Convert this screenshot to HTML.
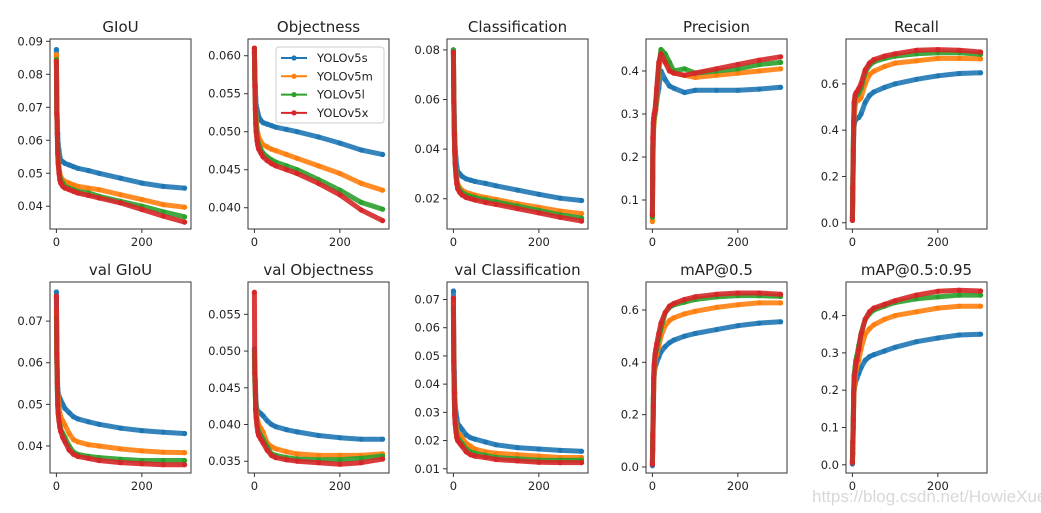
<!DOCTYPE html>
<html><head><meta charset="utf-8"><style>
html,body{margin:0;padding:0;background:#fff;}
svg{display:block;font-family:"DejaVu Sans","Liberation Sans",sans-serif;}
</style></head><body>
<svg id="fig" width="1041" height="513" viewBox="0 0 1041 513">
<text x="812" y="502" font-size="17" fill="#d8d8d8" font-family="Liberation Sans, sans-serif">https://blog.csdn.net/HowieXue</text>
</svg>
<script>
const epochs = [0,1,2,3,4,6,8,10,15,20,30,40,50,75,100,150,200,250,300];
const seriesNames = ["YOLOv5s","YOLOv5m","YOLOv5l","YOLOv5x"];
const xTicks = [0,200];

const giouS=[0.0875,0.071,0.066,0.062,0.059,0.057,0.055,0.054,0.0535,0.053,0.0525,0.052,0.0515,0.0508,0.050,0.0485,0.047,0.046,0.0455];
const giouM=[0.086,0.068,0.063,0.058,0.055,0.052,0.050,0.049,0.048,0.0475,0.047,0.0465,0.046,0.0455,0.045,0.0435,0.042,0.0405,0.0397];
const giouL=[0.0845,0.068,0.062,0.057,0.054,0.051,0.049,0.048,0.047,0.046,0.0455,0.045,0.0445,0.044,0.043,0.0415,0.040,0.0383,0.0368];
const giouX=[0.084,0.068,0.062,0.056,0.053,0.050,0.048,0.047,0.046,0.0455,0.045,0.0445,0.044,0.0433,0.0425,0.041,0.039,0.037,0.0352];
const giouTicks=[0.04,0.05,0.06,0.07,0.08,0.09];

const objS=[0.0605,0.058,0.056,0.0545,0.0535,0.053,0.0525,0.052,0.0515,0.0512,0.051,0.0508,0.0506,0.0503,0.0500,0.0493,0.0485,0.0476,0.0470];
const objM=[0.0605,0.057,0.055,0.053,0.052,0.0505,0.0498,0.0493,0.0487,0.0483,0.0480,0.0477,0.0475,0.0470,0.0465,0.0455,0.0445,0.0432,0.0423];
const objL=[0.061,0.057,0.054,0.052,0.051,0.0495,0.0488,0.0483,0.0477,0.0472,0.0467,0.0463,0.0460,0.0455,0.0450,0.0437,0.0423,0.0407,0.0398];
const objX=[0.061,0.056,0.053,0.051,0.050,0.0488,0.0482,0.0477,0.0472,0.0467,0.0462,0.0458,0.0455,0.0450,0.0445,0.0432,0.0417,0.0397,0.0383];
const objTicks=[0.040,0.045,0.050,0.055,0.060];

const clsS=[0.080,0.065,0.053,0.046,0.041,0.036,0.033,0.031,0.030,0.029,0.028,0.0275,0.027,0.0262,0.0252,0.0235,0.0218,0.0202,0.0193];
const clsM=[0.080,0.061,0.048,0.041,0.036,0.031,0.028,0.026,0.0245,0.0235,0.0225,0.022,0.0215,0.0205,0.0197,0.018,0.0165,0.015,0.014];
const clsL=[0.080,0.060,0.047,0.040,0.035,0.030,0.027,0.025,0.0235,0.0225,0.0215,0.021,0.0205,0.0195,0.0187,0.017,0.0153,0.0135,0.0122];
const clsX=[0.079,0.059,0.046,0.039,0.034,0.029,0.026,0.024,0.0225,0.0215,0.0205,0.020,0.0195,0.0185,0.0177,0.016,0.0143,0.0125,0.0110];
const clsTicks=[0.02,0.04,0.06,0.08];

const precS=[0.065,0.15,0.25,0.28,0.29,0.30,0.31,0.33,0.36,0.40,0.38,0.365,0.36,0.35,0.355,0.355,0.355,0.358,0.362];
const precM=[0.05,0.2,0.23,0.27,0.28,0.30,0.31,0.34,0.40,0.44,0.43,0.41,0.395,0.39,0.385,0.39,0.395,0.40,0.405];
const precL=[0.06,0.22,0.25,0.28,0.29,0.30,0.32,0.35,0.41,0.45,0.44,0.42,0.40,0.405,0.395,0.40,0.405,0.415,0.42];
const precX=[0.065,0.245,0.28,0.29,0.30,0.31,0.33,0.36,0.42,0.44,0.42,0.40,0.395,0.39,0.395,0.405,0.415,0.425,0.433];
const precTicks=[0.1,0.2,0.3,0.4];

const recS=[0.01,0.1,0.27,0.38,0.42,0.44,0.445,0.45,0.455,0.47,0.52,0.55,0.565,0.585,0.60,0.62,0.635,0.645,0.648];
const recM=[0.02,0.15,0.30,0.40,0.45,0.50,0.52,0.525,0.53,0.54,0.60,0.64,0.655,0.675,0.69,0.70,0.71,0.71,0.708];
const recL=[0.02,0.19,0.35,0.44,0.50,0.54,0.55,0.55,0.56,0.58,0.65,0.68,0.695,0.71,0.72,0.73,0.735,0.735,0.728];
const recX=[0.01,0.15,0.31,0.43,0.52,0.55,0.56,0.565,0.58,0.60,0.66,0.69,0.705,0.72,0.73,0.745,0.748,0.745,0.738];
const recTicks=[0.0,0.2,0.4,0.6];

const vgiouS=[0.077,0.066,0.058,0.054,0.053,0.052,0.0515,0.051,0.050,0.049,0.048,0.047,0.0465,0.0458,0.0452,0.0443,0.0437,0.0433,0.043];
const vgiouM=[0.0725,0.062,0.056,0.053,0.052,0.050,0.048,0.047,0.046,0.045,0.043,0.0415,0.041,0.0403,0.040,0.0393,0.0388,0.0385,0.0384];
const vgiouL=[0.071,0.06,0.054,0.050,0.048,0.046,0.045,0.044,0.043,0.042,0.040,0.0385,0.038,0.0375,0.0372,0.0368,0.0365,0.0365,0.0365];
const vgiouX=[0.076,0.062,0.055,0.050,0.048,0.046,0.0445,0.0435,0.042,0.041,0.039,0.038,0.0375,0.037,0.0365,0.036,0.0357,0.0355,0.0355];
const vgiouTicks=[0.04,0.05,0.06,0.07];

const vobjS=[0.0503,0.048,0.046,0.044,0.043,0.042,0.0418,0.0417,0.0415,0.0412,0.0405,0.040,0.0397,0.0393,0.039,0.0385,0.0382,0.038,0.038];
const vobjM=[0.0493,0.047,0.045,0.043,0.042,0.041,0.0405,0.040,0.0395,0.039,0.0375,0.037,0.0367,0.0363,0.036,0.0358,0.0358,0.0358,0.036];
const vobjL=[0.050,0.046,0.044,0.042,0.041,0.040,0.0395,0.039,0.0385,0.038,0.037,0.036,0.0358,0.0355,0.0353,0.0352,0.0352,0.0354,0.0357];
const vobjX=[0.058,0.047,0.045,0.042,0.041,0.0398,0.039,0.0385,0.038,0.0375,0.0365,0.0358,0.0355,0.0352,0.035,0.0348,0.0346,0.0348,0.0353];
const vobjTicks=[0.035,0.040,0.045,0.050,0.055];

const vclsS=[0.073,0.054,0.044,0.037,0.033,0.030,0.028,0.026,0.025,0.024,0.022,0.021,0.0205,0.0195,0.0185,0.0175,0.017,0.0165,0.0162];
const vclsM=[0.069,0.048,0.038,0.032,0.028,0.026,0.024,0.023,0.022,0.021,0.019,0.018,0.017,0.016,0.0155,0.015,0.0145,0.014,0.014];
const vclsL=[0.067,0.045,0.035,0.030,0.027,0.024,0.022,0.021,0.020,0.019,0.017,0.016,0.0155,0.0147,0.014,0.0135,0.013,0.013,0.013];
const vclsX=[0.0705,0.048,0.037,0.029,0.026,0.023,0.021,0.020,0.019,0.018,0.016,0.015,0.0145,0.014,0.0133,0.0128,0.0123,0.0122,0.0122];
const vclsTicks=[0.01,0.02,0.03,0.04,0.05,0.06,0.07];

const map5S=[0.005,0.07,0.2,0.3,0.35,0.38,0.39,0.40,0.42,0.44,0.46,0.475,0.485,0.50,0.51,0.525,0.54,0.55,0.555];
const map5M=[0.015,0.11,0.2,0.3,0.35,0.40,0.42,0.43,0.46,0.50,0.54,0.56,0.57,0.585,0.595,0.61,0.62,0.627,0.627];
const map5L=[0.02,0.13,0.26,0.34,0.38,0.42,0.44,0.45,0.49,0.53,0.59,0.61,0.62,0.63,0.64,0.65,0.655,0.655,0.652];
const map5X=[0.01,0.12,0.23,0.34,0.39,0.43,0.45,0.47,0.51,0.55,0.59,0.615,0.625,0.64,0.65,0.66,0.665,0.665,0.66];
const map5Ticks=[0.0,0.2,0.4,0.6];

const map95S=[0.002,0.03,0.1,0.17,0.2,0.215,0.225,0.23,0.245,0.26,0.28,0.29,0.295,0.305,0.315,0.33,0.34,0.348,0.35];
const map95M=[0.01,0.05,0.11,0.16,0.2,0.23,0.25,0.26,0.28,0.31,0.35,0.365,0.375,0.39,0.4,0.41,0.42,0.425,0.425];
const map95L=[0.01,0.06,0.13,0.2,0.24,0.26,0.28,0.29,0.32,0.35,0.39,0.405,0.415,0.425,0.435,0.445,0.45,0.455,0.455];
const map95X=[0.005,0.06,0.12,0.19,0.23,0.25,0.27,0.28,0.31,0.35,0.39,0.41,0.42,0.43,0.44,0.455,0.465,0.468,0.466];
const map95Ticks=[0.0,0.1,0.2,0.3,0.4];

const colors=["#1f77b4","#ff7f0e","#2ca02c","#d62728"];
const NS="http://www.w3.org/2000/svg";
const svg=document.getElementById("fig");
function el(tag,attrs,parent){const e=document.createElementNS(NS,tag);for(const k in attrs)e.setAttribute(k,attrs[k]);(parent||svg).appendChild(e);return e;}

const panels=[
 {title:"GIoU",slug:"giou",x:50,top:39,bot:229,yMin:0.0331,yMax:0.0907,ticks:giouTicks,dec:2,data:[giouS,giouM,giouL,giouX]},
 {title:"Objectness",slug:"objectness",x:248,top:39,bot:229,yMin:0.0372,yMax:0.0622,ticks:objTicks,dec:3,data:[objS,objM,objL,objX],legend:true},
 {title:"Classification",slug:"classification",x:447,top:39,bot:229,yMin:0.0078,yMax:0.0844,ticks:clsTicks,dec:2,data:[clsS,clsM,clsL,clsX]},
 {title:"Precision",slug:"precision",x:646,top:39,bot:229,yMin:0.0326,yMax:0.4744,ticks:precTicks,dec:1,data:[precS,precM,precL,precX]},
 {title:"Recall",slug:"recall",x:846,top:39,bot:229,yMin:-0.027,yMax:0.794,ticks:recTicks,dec:1,data:[recS,recM,recL,recX]},
 {title:"val GIoU",slug:"val-giou",x:50,top:282,bot:473,yMin:0.0335,yMax:0.0794,ticks:vgiouTicks,dec:2,data:[vgiouS,vgiouM,vgiouL,vgiouX]},
 {title:"val Objectness",slug:"val-objectness",x:248,top:282,bot:473,yMin:0.0334,yMax:0.0594,ticks:vobjTicks,dec:3,data:[vobjS,vobjM,vobjL,vobjX]},
 {title:"val Classification",slug:"val-classification",x:447,top:282,bot:473,yMin:0.0085,yMax:0.0762,ticks:vclsTicks,dec:2,data:[vclsS,vclsM,vclsL,vclsX]},
 {title:"mAP@0.5",slug:"map-05",x:646,top:282,bot:473,yMin:-0.023,yMax:0.707,ticks:map5Ticks,dec:1,data:[map5S,map5M,map5L,map5X]},
 {title:"mAP@0.5:0.95",slug:"map-05-095",x:846,top:282,bot:473,yMin:-0.022,yMax:0.49,ticks:map95Ticks,dec:1,data:[map95S,map95M,map95L,map95X]}
];
const W=141, xMin=-15, xMax=315;

panels.forEach(p=>{
  const g=el("g",{});
  
  
  const sx=v=>p.x+(v-xMin)/(xMax-xMin)*W;
  const sy=v=>p.bot-(v-p.yMin)/(p.yMax-p.yMin)*(p.bot-p.top);
  const t=el("text",{x:p.x+W/2,y:p.top-7,"text-anchor":"middle","font-size":"15",fill:"#222"},g);
  t.textContent=p.title;
  
  
  p.data.forEach((arr,si)=>{
    const pts=arr.map((v,i)=>sx(epochs[i]).toFixed(1)+","+sy(v).toFixed(1)).join(" ");
    const band=el("polyline",{points:pts,fill:"none",stroke:colors[si],"stroke-width":"5","stroke-linejoin":"round","stroke-linecap":"round","stroke-opacity":"0.9"},g);
    
    
    arr.forEach((v,i)=>{
      const c=el("circle",{cx:sx(epochs[i]).toFixed(1),cy:sy(v).toFixed(1),r:"2.6",fill:colors[si]},g);
      
      
    });
  });
  const frame=el("rect",{x:p.x,y:p.top,width:W,height:p.bot-p.top,fill:"none",stroke:"#333","stroke-width":"1"},g);
  
  
  p.ticks.forEach(v=>{
    const y=sy(v);
    const tk=el("line",{x1:p.x-4,x2:p.x,y1:y,y2:y,stroke:"#333"},g);
    
    
    const lb=el("text",{x:p.x-7,y:y+4,"text-anchor":"end","font-size":"11.5",fill:"#222"},g);
    lb.textContent=v.toFixed(p.dec);
    
    
  });
  xTicks.forEach(v=>{
    const x=sx(v);
    const tk=el("line",{x1:x,x2:x,y1:p.bot,y2:p.bot+4,stroke:"#333"},g);
    
    
    const lb=el("text",{x:x,y:p.bot+17,"text-anchor":"middle","font-size":"11.5",fill:"#222"},g);
    lb.textContent=String(v);
    
    
  });
  if(p.legend){
    const lg=el("g",{},g);
    
    
    el("rect",{x:276,y:47,width:108,height:76,rx:3,fill:"#fff","fill-opacity":"0.85",stroke:"#ccc"},lg);
    seriesNames.forEach((n,i)=>{
      const yy=58+i*18.3;
      const e=el("g",{},lg);
      
      
      el("line",{x1:281,x2:307,y1:yy,y2:yy,stroke:colors[i],"stroke-width":"2"},e);
      el("circle",{cx:294,cy:yy,r:"2.6",fill:colors[i]},e);
      const tx=el("text",{x:317,y:yy+4,"font-size":"11.5",fill:"#222"},e);
      tx.textContent=n;
    });
  }
});
</script>
</body></html>
